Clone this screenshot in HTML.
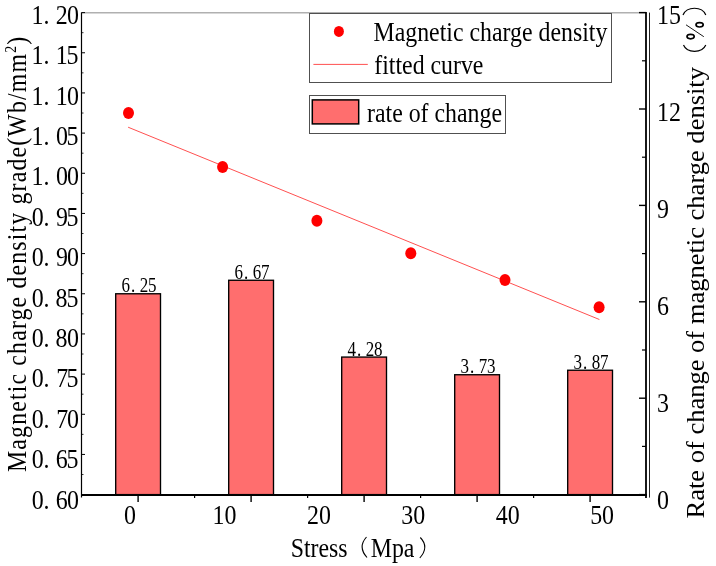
<!DOCTYPE html><html><head><meta charset="utf-8"><style>html,body{margin:0;padding:0;background:#fff;}svg{display:block;will-change:transform;}text{font-family:"Liberation Serif",serif;fill:#000;}</style></head><body>
<svg width="716" height="566" viewBox="0 0 716 566">
<rect width="716" height="566" fill="#fff"/>
<rect x="115.70" y="293.77" width="44.8" height="200.83" fill="#FF6E6E" stroke="#000" stroke-width="1.35"/>
<rect x="228.70" y="280.27" width="44.8" height="214.33" fill="#FF6E6E" stroke="#000" stroke-width="1.35"/>
<rect x="341.70" y="357.07" width="44.8" height="137.53" fill="#FF6E6E" stroke="#000" stroke-width="1.35"/>
<rect x="454.70" y="374.74" width="44.8" height="119.86" fill="#FF6E6E" stroke="#000" stroke-width="1.35"/>
<rect x="567.70" y="370.24" width="44.8" height="124.36" fill="#FF6E6E" stroke="#000" stroke-width="1.35"/>
<line x1="81.5" y1="12.7" x2="646.0" y2="12.7" stroke="#b0b0b0" stroke-width="1.4"/>
<line x1="81.5" y1="12.6" x2="81.5" y2="497.6" stroke="#000" stroke-width="1.2"/>
<line x1="81.5" y1="12.60" x2="85.0" y2="12.60" stroke="#000" stroke-width="1"/>
<line x1="81.5" y1="32.68" x2="83.5" y2="32.68" stroke="#000" stroke-width="0.8"/>
<line x1="81.5" y1="52.77" x2="85.0" y2="52.77" stroke="#000" stroke-width="1"/>
<line x1="81.5" y1="72.85" x2="83.5" y2="72.85" stroke="#000" stroke-width="0.8"/>
<line x1="81.5" y1="92.93" x2="85.0" y2="92.93" stroke="#000" stroke-width="1"/>
<line x1="81.5" y1="113.02" x2="83.5" y2="113.02" stroke="#000" stroke-width="0.8"/>
<line x1="81.5" y1="133.10" x2="85.0" y2="133.10" stroke="#000" stroke-width="1"/>
<line x1="81.5" y1="153.18" x2="83.5" y2="153.18" stroke="#000" stroke-width="0.8"/>
<line x1="81.5" y1="173.27" x2="85.0" y2="173.27" stroke="#000" stroke-width="1"/>
<line x1="81.5" y1="193.35" x2="83.5" y2="193.35" stroke="#000" stroke-width="0.8"/>
<line x1="81.5" y1="213.43" x2="85.0" y2="213.43" stroke="#000" stroke-width="1"/>
<line x1="81.5" y1="233.52" x2="83.5" y2="233.52" stroke="#000" stroke-width="0.8"/>
<line x1="81.5" y1="253.60" x2="85.0" y2="253.60" stroke="#000" stroke-width="1"/>
<line x1="81.5" y1="273.68" x2="83.5" y2="273.68" stroke="#000" stroke-width="0.8"/>
<line x1="81.5" y1="293.77" x2="85.0" y2="293.77" stroke="#000" stroke-width="1"/>
<line x1="81.5" y1="313.85" x2="83.5" y2="313.85" stroke="#000" stroke-width="0.8"/>
<line x1="81.5" y1="333.93" x2="85.0" y2="333.93" stroke="#000" stroke-width="1"/>
<line x1="81.5" y1="354.02" x2="83.5" y2="354.02" stroke="#000" stroke-width="0.8"/>
<line x1="81.5" y1="374.10" x2="85.0" y2="374.10" stroke="#000" stroke-width="1"/>
<line x1="81.5" y1="394.18" x2="83.5" y2="394.18" stroke="#000" stroke-width="0.8"/>
<line x1="81.5" y1="414.27" x2="85.0" y2="414.27" stroke="#000" stroke-width="1"/>
<line x1="81.5" y1="434.35" x2="83.5" y2="434.35" stroke="#000" stroke-width="0.8"/>
<line x1="81.5" y1="454.43" x2="85.0" y2="454.43" stroke="#000" stroke-width="1"/>
<line x1="81.5" y1="474.52" x2="83.5" y2="474.52" stroke="#000" stroke-width="0.8"/>
<line x1="81.5" y1="494.60" x2="85.0" y2="494.60" stroke="#000" stroke-width="1"/>
<line x1="81.5" y1="495" x2="647.0" y2="495" stroke="#000" stroke-width="2"/>
<line x1="138.10" y1="494.6" x2="138.10" y2="502.1" stroke="#000" stroke-width="1.4"/>
<line x1="251.10" y1="494.6" x2="251.10" y2="502.1" stroke="#000" stroke-width="1.4"/>
<line x1="364.10" y1="494.6" x2="364.10" y2="502.1" stroke="#000" stroke-width="1.4"/>
<line x1="477.10" y1="494.6" x2="477.10" y2="502.1" stroke="#000" stroke-width="1.4"/>
<line x1="590.10" y1="494.6" x2="590.10" y2="502.1" stroke="#000" stroke-width="1.4"/>
<line x1="194.60" y1="494.6" x2="194.60" y2="498.1" stroke="#000" stroke-width="1.2"/>
<line x1="307.60" y1="494.6" x2="307.60" y2="498.1" stroke="#000" stroke-width="1.2"/>
<line x1="420.60" y1="494.6" x2="420.60" y2="498.1" stroke="#000" stroke-width="1.2"/>
<line x1="533.60" y1="494.6" x2="533.60" y2="498.1" stroke="#000" stroke-width="1.2"/>
<line x1="646.0" y1="12.0" x2="646.0" y2="498.1" stroke="#000" stroke-width="1.8"/>
<line x1="649.5" y1="12.6" x2="649.5" y2="497.6" stroke="#222" stroke-width="1"/>
<line x1="639.0" y1="12.60" x2="646.0" y2="12.60" stroke="#000" stroke-width="1.4"/>
<line x1="642.0" y1="60.80" x2="646.0" y2="60.80" stroke="#000" stroke-width="1.2"/>
<line x1="639.0" y1="109.00" x2="646.0" y2="109.00" stroke="#000" stroke-width="1.4"/>
<line x1="642.0" y1="157.20" x2="646.0" y2="157.20" stroke="#000" stroke-width="1.2"/>
<line x1="639.0" y1="205.40" x2="646.0" y2="205.40" stroke="#000" stroke-width="1.4"/>
<line x1="642.0" y1="253.60" x2="646.0" y2="253.60" stroke="#000" stroke-width="1.2"/>
<line x1="639.0" y1="301.80" x2="646.0" y2="301.80" stroke="#000" stroke-width="1.4"/>
<line x1="642.0" y1="350.00" x2="646.0" y2="350.00" stroke="#000" stroke-width="1.2"/>
<line x1="639.0" y1="398.20" x2="646.0" y2="398.20" stroke="#000" stroke-width="1.4"/>
<line x1="642.0" y1="446.40" x2="646.0" y2="446.40" stroke="#000" stroke-width="1.2"/>
<line x1="639.0" y1="494.60" x2="646.0" y2="494.60" stroke="#000" stroke-width="1.4"/>
<line x1="128.1" y1="127.2" x2="599.4" y2="319.5" stroke="#FF5050" stroke-width="1"/>
<ellipse cx="128.5" cy="113" rx="5.5" ry="6" fill="#FF0000"/>
<ellipse cx="222.6" cy="167" rx="5.5" ry="6" fill="#FF0000"/>
<ellipse cx="316.9" cy="220.8" rx="5.5" ry="6" fill="#FF0000"/>
<ellipse cx="410.8" cy="253.3" rx="5.5" ry="6" fill="#FF0000"/>
<ellipse cx="505" cy="280" rx="5.5" ry="6" fill="#FF0000"/>
<ellipse cx="599.1" cy="307.3" rx="5.5" ry="6" fill="#FF0000"/>
<rect x="309.5" y="13.5" width="302" height="69" fill="#fff" stroke="#505050" stroke-width="1"/>
<ellipse cx="338.9" cy="31.4" rx="5" ry="5.5" fill="#FF0000"/>
<line x1="313.4" y1="64.4" x2="367.8" y2="64.4" stroke="#FF5050" stroke-width="1"/>
<rect x="309.5" y="95.5" width="196" height="38" fill="#fff" stroke="#505050" stroke-width="1"/>
<rect x="312.3" y="99.9" width="46.4" height="24" fill="#FF6E6E" stroke="#000" stroke-width="1.5"/>
<text transform="translate(373.51,40.80) scale(0.9,1)" font-size="26.5" >Magnetic charge density</text>
<text transform="translate(374.26,74.00) scale(0.9,1)" font-size="26.5" >fitted curve</text>
<text transform="translate(367.02,122.30) scale(0.9,1)" font-size="26.5" >rate of change</text>
<text transform="translate(290.70,557.10) scale(0.9,1)" font-size="26.5" >Stress</text>
<text transform="translate(370.71,557.10) scale(0.9,1)" font-size="26.5" >Mpa</text>
<path d="M366.5,537 Q357.5,547 367,557.5" fill="none" stroke="#000" stroke-width="1.1"/>
<path d="M420.3,537.5 Q429.5,547 419.8,558" fill="none" stroke="#000" stroke-width="1.1"/>
<text transform="translate(31.59,23.90) scale(0.9,1)" font-size="26.6" >1</text>
<text transform="translate(43.62,23.90) scale(0.9,1)" font-size="26.6" >.</text>
<text transform="translate(55.85,23.90) scale(0.9,1)" font-size="26.6" >2</text>
<text transform="translate(66.99,23.90) scale(0.9,1)" font-size="26.6" >0</text>
<text transform="translate(31.59,64.29) scale(0.9,1)" font-size="26.6" >1</text>
<text transform="translate(43.62,64.29) scale(0.9,1)" font-size="26.6" >.</text>
<text transform="translate(55.79,64.29) scale(0.9,1)" font-size="26.6" >1</text>
<text transform="translate(66.46,64.29) scale(0.9,1)" font-size="26.6" >5</text>
<text transform="translate(31.59,104.68) scale(0.9,1)" font-size="26.6" >1</text>
<text transform="translate(43.62,104.68) scale(0.9,1)" font-size="26.6" >.</text>
<text transform="translate(55.79,104.68) scale(0.9,1)" font-size="26.6" >1</text>
<text transform="translate(66.99,104.68) scale(0.9,1)" font-size="26.6" >0</text>
<text transform="translate(31.59,145.07) scale(0.9,1)" font-size="26.6" >1</text>
<text transform="translate(43.62,145.07) scale(0.9,1)" font-size="26.6" >.</text>
<text transform="translate(55.99,145.07) scale(0.9,1)" font-size="26.6" >0</text>
<text transform="translate(66.46,145.07) scale(0.9,1)" font-size="26.6" >5</text>
<text transform="translate(31.59,185.46) scale(0.9,1)" font-size="26.6" >1</text>
<text transform="translate(43.62,185.46) scale(0.9,1)" font-size="26.6" >.</text>
<text transform="translate(55.99,185.46) scale(0.9,1)" font-size="26.6" >0</text>
<text transform="translate(66.99,185.46) scale(0.9,1)" font-size="26.6" >0</text>
<text transform="translate(31.79,225.85) scale(0.9,1)" font-size="26.6" >0</text>
<text transform="translate(43.62,225.85) scale(0.9,1)" font-size="26.6" >.</text>
<text transform="translate(55.94,225.85) scale(0.9,1)" font-size="26.6" >9</text>
<text transform="translate(66.46,225.85) scale(0.9,1)" font-size="26.6" >5</text>
<text transform="translate(31.79,266.24) scale(0.9,1)" font-size="26.6" >0</text>
<text transform="translate(43.62,266.24) scale(0.9,1)" font-size="26.6" >.</text>
<text transform="translate(55.94,266.24) scale(0.9,1)" font-size="26.6" >9</text>
<text transform="translate(66.99,266.24) scale(0.9,1)" font-size="26.6" >0</text>
<text transform="translate(31.79,306.63) scale(0.9,1)" font-size="26.6" >0</text>
<text transform="translate(43.62,306.63) scale(0.9,1)" font-size="26.6" >.</text>
<text transform="translate(55.46,306.63) scale(0.9,1)" font-size="26.6" >8</text>
<text transform="translate(66.46,306.63) scale(0.9,1)" font-size="26.6" >5</text>
<text transform="translate(31.79,347.02) scale(0.9,1)" font-size="26.6" >0</text>
<text transform="translate(43.62,347.02) scale(0.9,1)" font-size="26.6" >.</text>
<text transform="translate(55.46,347.02) scale(0.9,1)" font-size="26.6" >8</text>
<text transform="translate(66.99,347.02) scale(0.9,1)" font-size="26.6" >0</text>
<text transform="translate(31.79,387.41) scale(0.9,1)" font-size="26.6" >0</text>
<text transform="translate(43.62,387.41) scale(0.9,1)" font-size="26.6" >.</text>
<text transform="translate(56.18,387.41) scale(0.9,1)" font-size="26.6" >7</text>
<text transform="translate(66.46,387.41) scale(0.9,1)" font-size="26.6" >5</text>
<text transform="translate(31.79,427.80) scale(0.9,1)" font-size="26.6" >0</text>
<text transform="translate(43.62,427.80) scale(0.9,1)" font-size="26.6" >.</text>
<text transform="translate(56.18,427.80) scale(0.9,1)" font-size="26.6" >7</text>
<text transform="translate(66.99,427.80) scale(0.9,1)" font-size="26.6" >0</text>
<text transform="translate(31.79,468.19) scale(0.9,1)" font-size="26.6" >0</text>
<text transform="translate(43.62,468.19) scale(0.9,1)" font-size="26.6" >.</text>
<text transform="translate(55.87,468.19) scale(0.9,1)" font-size="26.6" >6</text>
<text transform="translate(66.46,468.19) scale(0.9,1)" font-size="26.6" >5</text>
<text transform="translate(31.79,508.58) scale(0.9,1)" font-size="26.6" >0</text>
<text transform="translate(43.62,508.58) scale(0.9,1)" font-size="26.6" >.</text>
<text transform="translate(55.87,508.58) scale(0.9,1)" font-size="26.6" >6</text>
<text transform="translate(66.99,508.58) scale(0.9,1)" font-size="26.6" >0</text>
<text transform="translate(657.04,24.10) scale(0.9,1)" font-size="26.6" >15</text>
<text transform="translate(657.04,121.00) scale(0.9,1)" font-size="26.6" >12</text>
<text transform="translate(657.04,217.90) scale(0.9,1)" font-size="26.6" >9</text>
<text transform="translate(657.04,314.80) scale(0.9,1)" font-size="26.6" >6</text>
<text transform="translate(657.04,411.70) scale(0.9,1)" font-size="26.6" >3</text>
<text transform="translate(657.04,508.60) scale(0.9,1)" font-size="26.6" >0</text>
<text transform="translate(121.60,292.27) scale(0.85,1)" font-size="20.0" >6</text>
<text transform="translate(131.10,292.27) scale(0.85,1)" font-size="20.0" >.</text>
<text transform="translate(139.80,292.27) scale(0.85,1)" font-size="20.0" >2</text>
<text transform="translate(148.10,292.27) scale(0.85,1)" font-size="20.0" >5</text>
<text transform="translate(234.60,278.77) scale(0.85,1)" font-size="20.0" >6</text>
<text transform="translate(244.10,278.77) scale(0.85,1)" font-size="20.0" >.</text>
<text transform="translate(252.80,278.77) scale(0.85,1)" font-size="20.0" >6</text>
<text transform="translate(261.10,278.77) scale(0.85,1)" font-size="20.0" >7</text>
<text transform="translate(347.60,355.57) scale(0.85,1)" font-size="20.0" >4</text>
<text transform="translate(357.10,355.57) scale(0.85,1)" font-size="20.0" >.</text>
<text transform="translate(365.80,355.57) scale(0.85,1)" font-size="20.0" >2</text>
<text transform="translate(374.10,355.57) scale(0.85,1)" font-size="20.0" >8</text>
<text transform="translate(460.60,373.24) scale(0.85,1)" font-size="20.0" >3</text>
<text transform="translate(470.10,373.24) scale(0.85,1)" font-size="20.0" >.</text>
<text transform="translate(478.80,373.24) scale(0.85,1)" font-size="20.0" >7</text>
<text transform="translate(487.10,373.24) scale(0.85,1)" font-size="20.0" >3</text>
<text transform="translate(573.60,368.74) scale(0.85,1)" font-size="20.0" >3</text>
<text transform="translate(583.10,368.74) scale(0.85,1)" font-size="20.0" >.</text>
<text transform="translate(591.80,368.74) scale(0.85,1)" font-size="20.0" >8</text>
<text transform="translate(600.10,368.74) scale(0.85,1)" font-size="20.0" >7</text>
<text transform="translate(130.10,523.50) scale(0.9,1)" font-size="26.6" text-anchor="middle">0</text>
<text transform="translate(224.50,523.50) scale(0.9,1)" font-size="26.6" text-anchor="middle">10</text>
<text transform="translate(318.90,523.50) scale(0.9,1)" font-size="26.6" text-anchor="middle">20</text>
<text transform="translate(413.30,523.50) scale(0.9,1)" font-size="26.6" text-anchor="middle">30</text>
<text transform="translate(507.70,523.50) scale(0.9,1)" font-size="26.6" text-anchor="middle">40</text>
<text transform="translate(602.10,523.50) scale(0.9,1)" font-size="26.6" text-anchor="middle">50</text>
<text transform="translate(25.5,472) rotate(-90) scale(0.86,1)" font-size="27.7" letter-spacing="1.35">Magnetic charge density grade(Wb/mm<tspan font-size="16" dy="-10">2</tspan><tspan dy="10">)</tspan></text>
<text transform="translate(703.8,518.5) rotate(-90) scale(1.02,1)" font-size="26.0">Rate of change of magnetic charge density</text>
<path d="M683,14.9 C687,6 702,6 705.8,14.9" fill="none" stroke="#000" stroke-width="1.2"/>
<path d="M683.5,45.1 C687,53.5 702,53.5 705.8,45.1" fill="none" stroke="#000" stroke-width="1.2"/>
<ellipse cx="699.6" cy="24.8" rx="3.6" ry="2.2" fill="none" stroke="#000" stroke-width="1.7"/>
<ellipse cx="690.6" cy="36.6" rx="3.6" ry="2.2" fill="none" stroke="#000" stroke-width="1.7"/>
<line x1="686" y1="24.8" x2="703.8" y2="36.7" stroke="#000" stroke-width="0.9"/>
</svg></body></html>
